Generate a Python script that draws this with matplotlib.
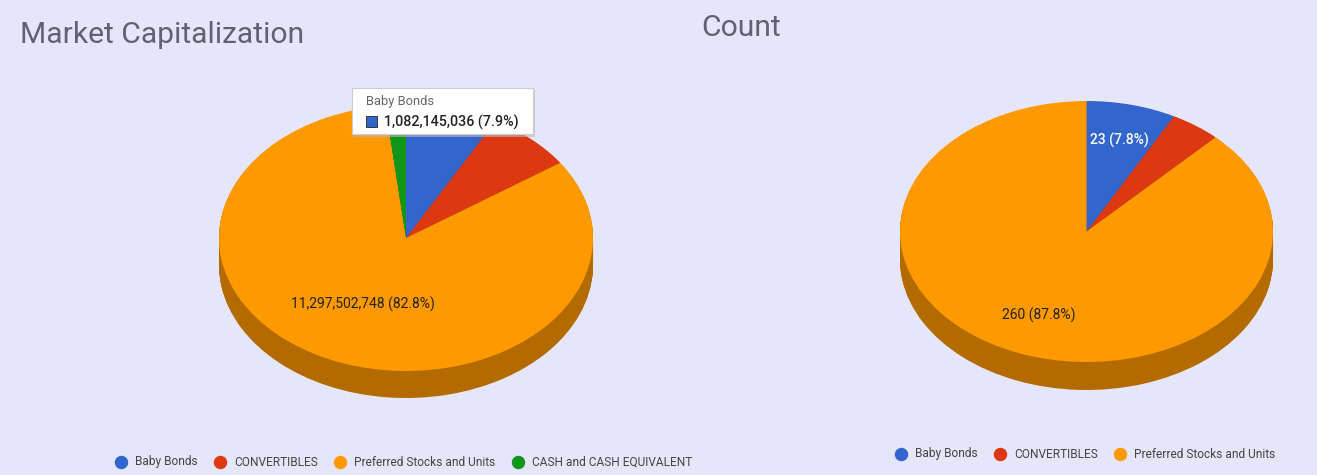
import matplotlib.pyplot as plt
from matplotlib.patches import Rectangle
import matplotlib.colors as mcolors
import numpy as np

plt.rcParams['font.family'] = ['Roboto', 'DejaVu Sans']

# ---- data ----
cap_labels = ['Baby Bonds', 'CONVERTIBLES', 'Preferred Stocks and Units', 'CASH and CASH EQUIVALENT']
cap_values = [1082145036, 1023000000, 11297502748, 241700000]
cap_colors = ['#3366CC', '#DC3912', '#FF9900', '#109618']

cnt_labels = ['Baby Bonds', 'CONVERTIBLES', 'Preferred Stocks and Units']
cnt_values = [23, 13, 260]
cnt_colors = ['#3366CC', '#DC3912', '#FF9900']

W, H = 1317, 475
BG = '#E6E6FA'
fig = plt.figure(figsize=(W / 100, H / 100), dpi=100, facecolor=BG)


def darken(c, f=0.7):
    r, g, b = mcolors.to_rgb(c)
    return (r * f, g * f, b * f)


def pie3d(x0, x1, y0, y1, depth, values, colors):
    # top face spans x0..x1, y0..y1 (pixels), side extrudes by depth pixels
    ry = (y1 - y0) / 2
    ax = fig.add_axes([x0 / W, 1 - (y1 + depth) / H, (x1 - x0) / W, (y1 - y0 + depth) / H])
    d = depth / ry
    n = 40
    dark = [darken(c) for c in colors]
    for k in range(n, 0, -1):
        ax.pie(values, colors=dark, startangle=90, counterclock=False,
               center=(0, -d * k / n), wedgeprops=dict(linewidth=0), frame=True)
    ax.pie(values, colors=colors, startangle=90, counterclock=False,
           wedgeprops=dict(linewidth=0), frame=True)
    ax.set_aspect('auto')
    ax.set_xlim(-1, 1)
    ax.set_ylim(-1 - d, 1)
    ax.axis('off')
    return ax


def slice_label(ax, values, i, r, text, color, weight='normal'):
    tot = sum(values)
    start = sum(values[:i]) / tot * 360
    mid = np.radians(start + values[i] / tot * 180)
    ax.text(r * np.sin(mid), r * np.cos(mid), text, ha='center', va='center',
            fontsize=10, color=color, fontweight=weight)


# left: market cap
ax1 = pie3d(219, 593, 105, 371, 27, cap_values, cap_colors)
tot1 = sum(cap_values)
slice_label(ax1, cap_values, 2, 0.55,
            f'{cap_values[2]:,} ({cap_values[2] / tot1:.1%})', '#222222')

# right: count
ax2 = pie3d(900, 1273, 101, 362, 28, cnt_values, cnt_colors)
tot2 = sum(cnt_values)
slice_label(ax2, cnt_values, 2, 0.69,
            f'{cnt_values[2]} ({cnt_values[2] / tot2:.1%})', '#222222')
slice_label(ax2, cnt_values, 0, 0.72,
            f'{cnt_values[0]} ({cnt_values[0] / tot2:.1%})', 'white', 'medium')

# overlay in pixel coordinates
ov = fig.add_axes([0, 0, 1, 1], zorder=10)
ov.set_xlim(0, W)
ov.set_ylim(H, 0)
ov.axis('off')
ov.patch.set_alpha(0)

title_color = '#5F6270'
ov.text(20, 35, 'Market Capitalization', fontsize=21.6, color=title_color, va='center', ha='left')
ov.text(701, 28, 'Count', fontsize=21.6, color=title_color, va='center', ha='left')

# tooltip
ov.add_patch(Rectangle((353, 90), 182, 47, facecolor='#bbbbbb', edgecolor='none', alpha=0.6))
ov.add_patch(Rectangle((352, 88), 181, 46, facecolor='white', edgecolor='#cccccc', linewidth=0.8))
ov.text(366, 102, cap_labels[0], fontsize=9.3, color='#666666', va='center')
ov.add_patch(Rectangle((366, 116), 11, 11, facecolor=cap_colors[0], edgecolor='#222222', linewidth=0.6))
ov.text(384, 122, f'{cap_values[0]:,} ({cap_values[0] / tot1:.1%})', fontsize=10.3,
        fontweight='medium', color='#222222', va='center')

# legends
leg_text = '#444444'
for xs, lab, col in zip([121, 220, 340, 518], cap_labels, cap_colors):
    ov.scatter([xs], [462], s=75, color=col, zorder=11)
    ov.text(xs + 14, 462, lab, fontsize=8.6, color=leg_text, va='center')
for xs, lab, col in zip([901, 1000, 1120], cnt_labels, cnt_colors):
    ov.scatter([xs], [454], s=75, color=col, zorder=11)
    ov.text(xs + 14, 454, lab, fontsize=8.6, color=leg_text, va='center')

fig.savefig('out.png', dpi=100, facecolor=BG)
